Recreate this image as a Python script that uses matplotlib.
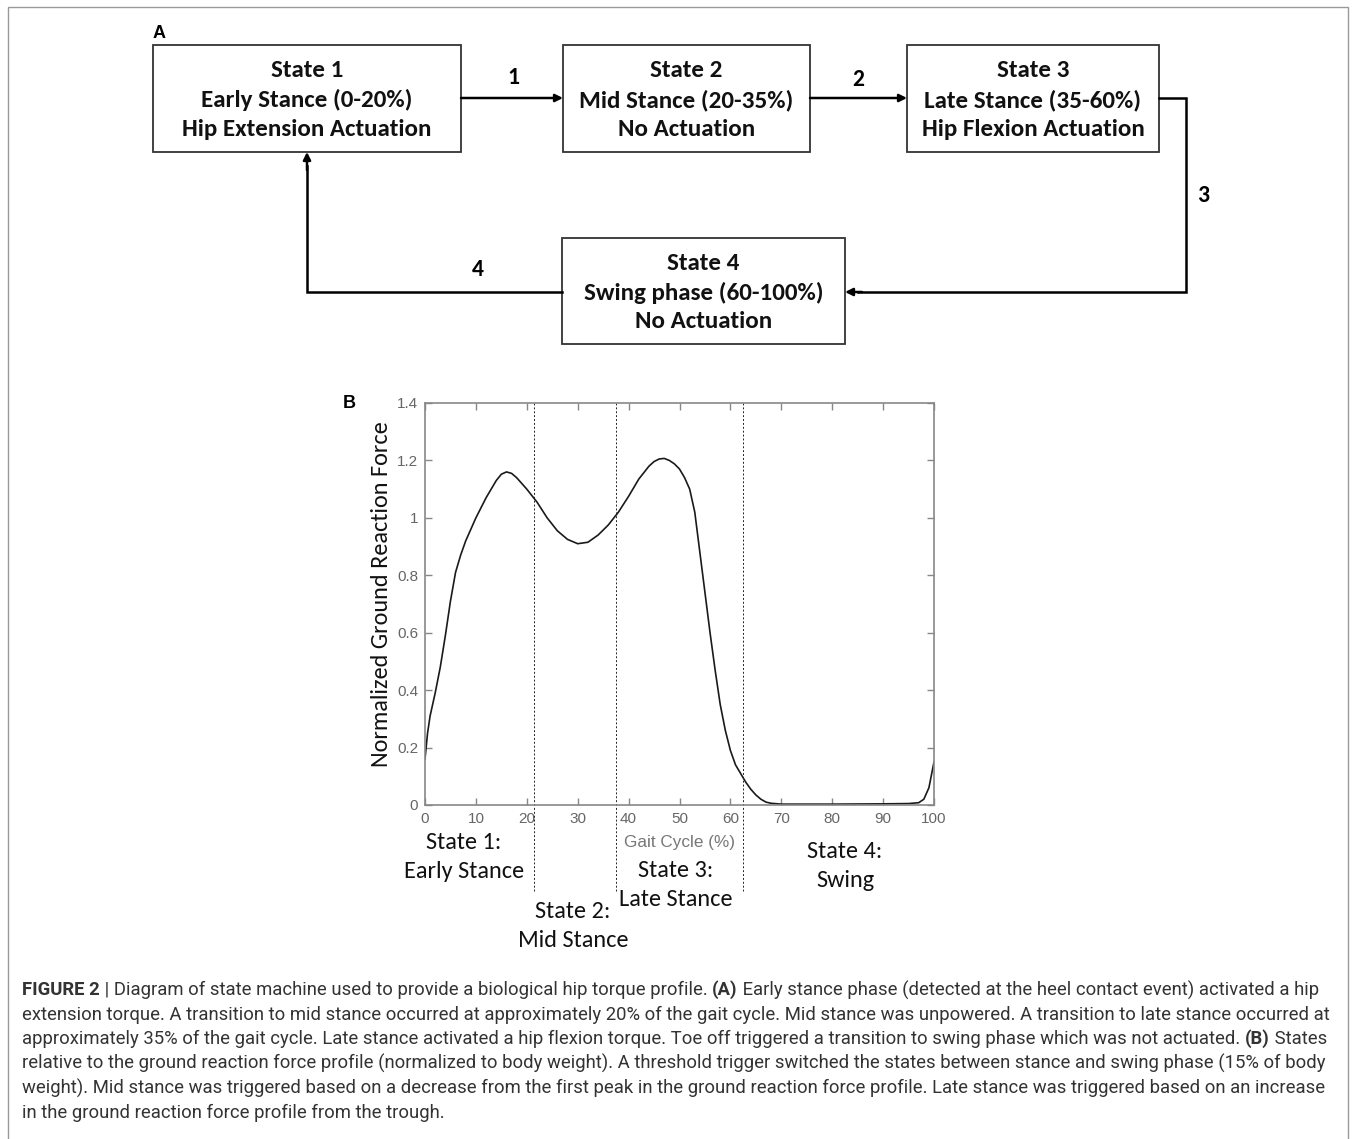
import matplotlib
matplotlib.use("Agg")
import matplotlib.pyplot as plt
from matplotlib import font_manager
from matplotlib.patches import Rectangle

# ground reaction force profile
gait_pct = [0, 0.5, 1, 2, 3, 4, 5, 6, 7, 8, 9, 10, 12, 14, 15, 16, 17, 18, 20, 22, 24, 26,
            28, 30, 32, 34, 36, 38, 40, 42, 44, 45, 46, 47, 48, 49, 50, 51, 52, 53, 54, 55,
            56, 57, 58, 59, 60, 61, 62, 63, 64, 65, 66, 67, 68, 70, 80, 90, 95, 97, 98, 99, 100]
grf = [0.16, 0.25, 0.31, 0.39, 0.48, 0.59, 0.71, 0.81, 0.87, 0.92, 0.96, 1.0, 1.07, 1.13,
       1.152, 1.16, 1.155, 1.14, 1.1, 1.055, 1.0, 0.955, 0.925, 0.91, 0.915, 0.94, 0.975,
       1.02, 1.075, 1.135, 1.18, 1.196, 1.205, 1.207, 1.2, 1.188, 1.17, 1.14, 1.1, 1.02,
       0.88, 0.74, 0.6, 0.47, 0.35, 0.26, 0.19, 0.14, 0.11, 0.08, 0.055, 0.035, 0.02, 0.01,
       0.006, 0.003, 0.003, 0.004, 0.005, 0.008, 0.02, 0.06, 0.15]
state_bounds = [21.5, 37.5, 62.5]
x_ticks = [0, 10, 20, 30, 40, 50, 60, 70, 80, 90, 100]
y_ticks = [0, 0.2, 0.4, 0.6, 0.8, 1.0, 1.2, 1.4]
y_ticklabels = ["0", "0.2", "0.4", "0.6", "0.8", "1", "1.2", "1.4"]
state_labels = ["State 1:\nEarly Stance", "State 2:\nMid Stance",
                "State 3:\nLate Stance", "State 4:\nSwing"]
box_texts = ["State 1\nEarly Stance (0-20%)\nHip Extension Actuation",
             "State 2\nMid Stance (20-35%)\nNo Actuation",
             "State 3\nLate Stance (35-60%)\nHip Flexion Actuation",
             "State 4\nSwing phase (60-100%)\nNo Actuation"]
caption = [
    [("FIGURE 2", True), (" | Diagram of state machine used to provide a biological hip torque profile. ", False),
     ("(A)", True), (" Early stance phase (detected at the heel contact event) activated a hip", False)],
    [("extension torque. A transition to mid stance occurred at approximately 20% of the gait cycle. "
      "Mid stance was unpowered. A transition to late stance occurred at", False)],
    [("approximately 35% of the gait cycle. Late stance activated a hip flexion torque. Toe off triggered "
      "a transition to swing phase which was not actuated. ", False), ("(B)", True), (" States", False)],
    [("relative to the ground reaction force profile (normalized to body weight). A threshold trigger "
      "switched the states between stance and swing phase (15% of body", False)],
    [("weight). Mid stance was triggered based on a decrease from the first peak in the ground reaction "
      "force profile. Late stance was triggered based on an increase", False)],
    [("in the ground reaction force profile from the trough.", False)],
]


def pick(names):
    have = {f.name for f in font_manager.fontManager.ttflist}
    for n in names:
        if n in have:
            return n
    return "DejaVu Sans"


calib = pick(["Carlito", "Lato", "Open Sans"])
arial = pick(["Liberation Sans", "Arial", "DejaVu Sans"])
narrow = pick(["Liberation Sans Narrow", "Roboto", "Liberation Sans"])

W, H = 1356, 1139
fig = plt.figure(figsize=(W / 100, H / 100), dpi=100)
ov = fig.add_axes([0, 0, 1, 1])
ov.set_xlim(0, W)
ov.set_ylim(H, 0)
ov.axis("off")

# outer frame
ov.add_patch(Rectangle((8, 7), 1340, 1150, fill=False, ec="#9a9a9a", lw=1.0, clip_on=False))

# panel A: state boxes
boxes = [(153, 45, 308, 107), (563, 45, 247, 107), (907, 45, 252, 107), (562, 238, 283, 106)]
for (bx, by, bw, bh), txt in zip(boxes, box_texts):
    ov.add_patch(Rectangle((bx, by), bw, bh, fill=False, ec="#333333", lw=1.3))
    ov.text(bx + bw / 2, by + bh / 2 + 1.5, txt, ha="center", va="center", family=calib,
            weight="bold", fontsize=18, linespacing=1.45, color="#111111")

ov.text(153, 33, "A", family=arial, weight="bold", fontsize=13, va="center")

arrow_kw = dict(arrowstyle="-|>", lw=1.8, color="black", mutation_scale=11, shrinkA=0, shrinkB=0)
ov.annotate("", xy=(563, 98), xytext=(461, 98), arrowprops=arrow_kw)
ov.annotate("", xy=(907, 98), xytext=(810, 98), arrowprops=arrow_kw)
ov.plot([1159, 1186, 1186, 858], [98, 98, 292, 292], color="black", lw=1.8, solid_joinstyle="miter")
ov.annotate("", xy=(845, 292), xytext=(862, 292), arrowprops=arrow_kw)
ov.plot([562, 307, 307], [292, 292, 166], color="black", lw=1.8, solid_joinstyle="miter")
ov.annotate("", xy=(307, 152), xytext=(307, 170), arrowprops=arrow_kw)

for lbl, (lx, ly) in zip(["1", "2", "3", "4"], [(513, 78), (858, 80), (1203, 196), (478, 270)]):
    ov.text(lx, ly, lbl, family=calib, weight="bold", fontsize=17, ha="center", va="center")

# panel B: ground reaction force
ax = fig.add_axes([425 / W, (H - 805) / H, 509 / W, 402 / H])
ax.set_facecolor("none")
ax.plot(gait_pct, grf, color="#1a1a1a", lw=1.2)
for b in state_bounds:
    ax.plot([b, b], [1.4, -0.3], color="#222222", lw=0.7, ls=(0, (2, 2)), clip_on=False)
ax.set_xlim(0, 100)
ax.set_ylim(0, 1.4)
ax.set_xticks(x_ticks)
ax.set_yticks(y_ticks)
ax.set_yticklabels(y_ticklabels)
ax.tick_params(direction="in", top=True, right=True, length=5, width=1, color="#888888",
               labelcolor="#666666", labelsize=11, pad=5)
for lab in ax.get_xticklabels() + ax.get_yticklabels():
    lab.set_family(arial)
for s in ax.spines.values():
    s.set_color("#888888")
    s.set_linewidth(1.2)

ov.text(381, 594, "Normalized Ground Reaction Force", family=calib, fontsize=17.5, rotation=90,
        color="#111111", ha="center", va="center")
ov.text(679, 842, "Gait Cycle (%)", family=arial, fontsize=12.3, color="#777777", ha="center", va="center")
ov.text(343, 403, "B", family=arial, weight="bold", fontsize=13, va="center")

for txt, (tx, ty) in zip(state_labels, [(464, 857), (573, 926), (676, 885), (845, 866)]):
    ov.text(tx, ty, txt, family=calib, fontsize=17.5, ha="center", va="center", linespacing=1.45,
            color="#111111")

# caption with inline bold parts
fig.canvas.draw()
rend = fig.canvas.get_renderer()
y0 = 990
for i, line in enumerate(caption):
    x = 22
    for part, bold in line:
        t = ov.text(x, y0 + i * 24.5, part, family=narrow, fontsize=13.35, color="#333333",
                    weight="bold" if bold else "normal", va="center", ha="left")
        x += t.get_window_extent(rend).width

fig.savefig("out.png", dpi=100)
